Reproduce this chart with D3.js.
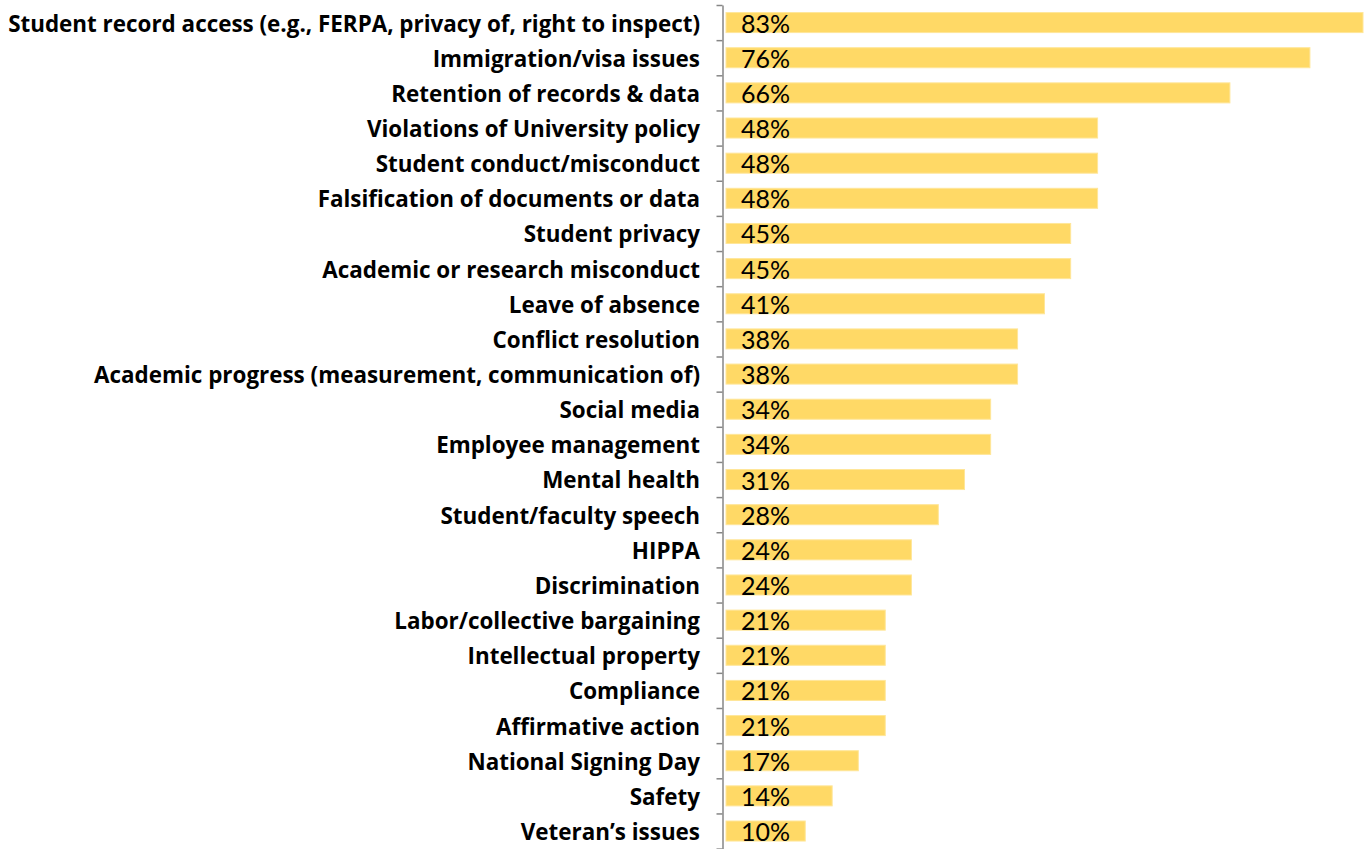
<!DOCTYPE html>
<html>
<head>
<meta charset="utf-8">
<script src="https://cdn.jsdelivr.net/npm/d3@7"></script>
<style>
  body { margin: 0; background: #fff; }
</style>
</head>
<body>
<script>
var width = 1369
var height = 849

var categories = [
  'Student record access (e.g., FERPA, privacy of, right to inspect)',
  'Immigration/visa issues',
  'Retention of records & data',
  'Violations of University policy',
  'Student conduct/misconduct',
  'Falsification of documents or data',
  'Student privacy',
  'Academic or research misconduct',
  'Leave of absence',
  'Conflict resolution',
  'Academic progress (measurement, communication of)',
  'Social media',
  'Employee management',
  'Mental health',
  'Student/faculty speech',
  'HIPPA',
  'Discrimination',
  'Labor/collective bargaining',
  'Intellectual property',
  'Compliance',
  'Affirmative action',
  'National Signing Day',
  'Safety',
  'Veteran’s issues'
]

// bar lengths (percent)
var values = [82.8, 75.9, 65.5, 48.3, 48.3, 48.3, 44.8, 44.8, 41.4, 37.9, 37.9,
  34.4, 34.4, 31.0, 27.6, 24.1, 24.1, 20.7, 20.7, 20.7, 20.7, 17.2, 13.8, 10.3]

var data = categories.map(function (c, i) { return { name: c, value: values[i] } })

var svg = d3.select('body').append('svg')
  .attr('width', width)
  .attr('height', height)

var x0 = 726
var x = d3.scaleLinear().domain([0, 82.8]).range([x0, 1363])

var plotTop = 5
var step = 35.15
var plotBottom = plotTop + step * categories.length
var y = d3.scaleBand()
  .domain(categories)
  .range([plotTop, plotBottom])
  .paddingInner(0.43)
  .paddingOuter(0.215)

// axis with ticks between categories
var yi = d3.scaleLinear().domain([0, categories.length]).range([plotTop, plotBottom])
svg.append('g')
  .attr('transform', 'translate(722.5,0)')
  .call(d3.axisLeft(yi).tickValues(d3.range(0, categories.length + 1)).tickFormat('').tickSize(6).tickSizeOuter(0))
  .call(function (g) {
    g.select('.domain').attr('stroke', '#868686').attr('stroke-width', 1.5)
    g.selectAll('.tick line').attr('stroke', '#868686').attr('stroke-width', 1.5)
  })

svg.selectAll('.bar')
  .data(data)
  .enter()
  .append('rect')
  .attr('class', 'bar')
  .attr('x', x(0))
  .attr('y', function (d) { return y(d.name) })
  .attr('width', function (d) { return x(d.value) - x(0) })
  .attr('height', y.bandwidth())
  .attr('fill', '#FFD966')
  .attr('stroke', '#FFE699')
  .attr('stroke-width', 1)

svg.selectAll('.val')
  .data(data)
  .enter()
  .append('text')
  .attr('class', 'val')
  .attr('x', x(0) + 15)
  .attr('y', function (d) { return y(d.name) + y.bandwidth() / 2 })
  .attr('dy', '0.4em')
  .style('font-family', 'Lato, "Open Sans", sans-serif')
  .style('font-size', '25px')
  .style('fill', '#000')
  .text(function (d) { return Math.round(d.value) + '%' })

var labels = svg.selectAll('.lab')
  .data(data)
  .enter()
  .append('text')
  .attr('class', 'lab')
  .attr('x', 700)
  .attr('y', function (d) { return y(d.name) + y.bandwidth() / 2 })
  .attr('dy', '0.4em')
  .attr('text-anchor', 'end')
  .style('font-family', '"Open Sans", sans-serif')
  .style('font-weight', 'bold')
  .style('font-size', '20px')
  .style('fill', '#000')
  .text(function (d) { return d.name })

// fit the longest label into the space the reference gives it
var longest = labels.nodes()[0].getComputedTextLength()
var fs = 20 * 692 / longest
labels.style('font-size', fs + 'px')
</script>
</body>
</html>
